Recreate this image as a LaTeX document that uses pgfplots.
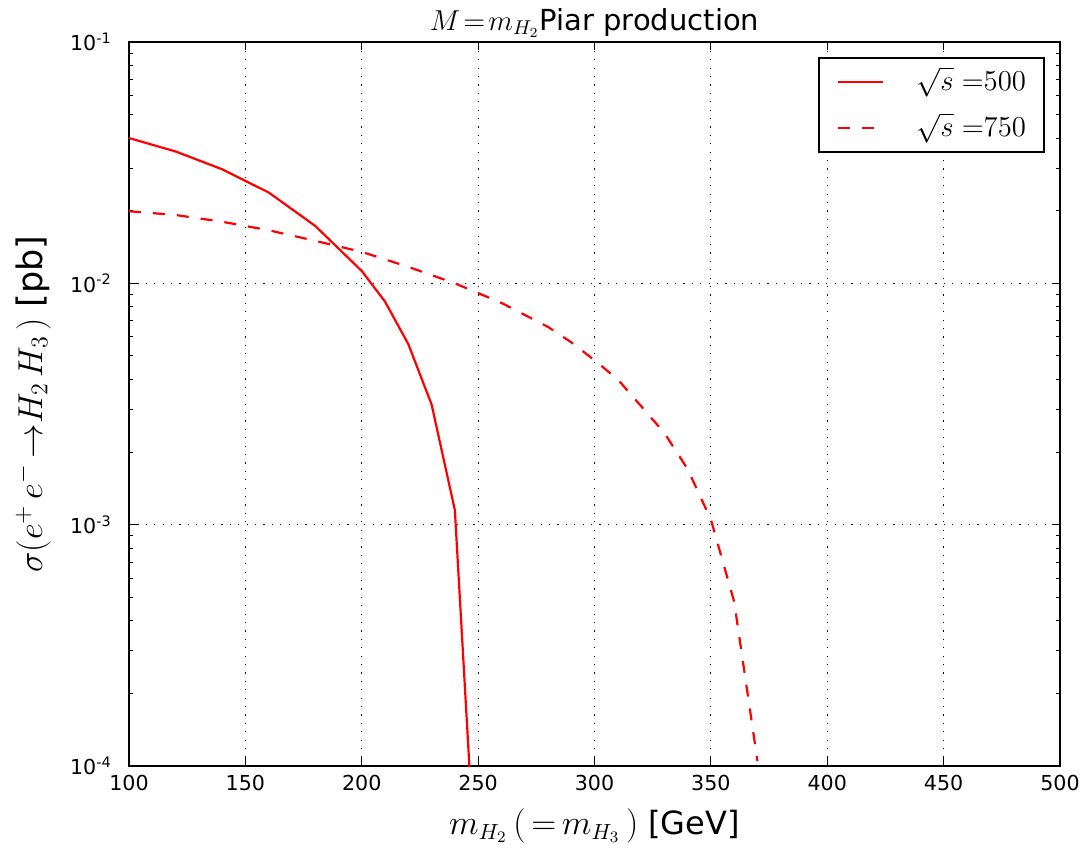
\documentclass[border=0pt]{standalone}
\usepackage{fontspec}
\setmainfont{DejaVu Sans}
\usepackage{pgfplots}
\pgfplotsset{compat=1.18}
\begin{document}
\fontsize{10.3}{12}\selectfont
\begin{tikzpicture}
\begin{axis}[
  scale only axis,
  width=465.5pt, height=362pt,
  xmin=100, xmax=500,
  ymode=log, ymin=1e-4, ymax=1e-1,
  xtick={100,150,...,500},
  ytick={1e-4,1e-3,1e-2,1e-1},
  yticklabels={10\textsuperscript{-4},10\textsuperscript{-3},10\textsuperscript{-2},10\textsuperscript{-1}},
  /pgf/number format/assume math mode=true,
  /pgf/number format/1000 sep={},
  tick align=inside,
  major tick length=4pt, minor tick length=2pt,
  tick style={black, line width=0.5pt},
  axis line style={black, line width=1pt},
  grid=major,
  major grid style={black, line width=0.5pt, dash pattern=on 0.6pt off 3.6pt},
  xticklabel style={font=\fontsize{10.3}{12}\selectfont, yshift=-1pt},
  yticklabel style={font=\fontsize{10.3}{12}\selectfont, xshift=-5pt},
  every axis title shift=0pt,
  title={$M\mkern2mu{=}\mkern2mu m_{H_2}$Piar production},
  title style={font=\fontsize{14.5}{16}\selectfont, at={(axis description cs:0.5,1)}, anchor=base, yshift=6pt},
  xlabel={$m_{H_2}\,(\,{=}\,m_{H_3}\,)$ [GeV]},
  xlabel style={font=\fontsize{16}{18}\selectfont, at={(axis description cs:0.5,0)}, anchor=base, yshift=-34pt},
  ylabel={$\sigma(e^{+}\,e^{-}\,{\rightarrow}H_2\,H_3\,)$ [pb]},
  ylabel style={font=\fontsize{17.5}{19}\selectfont, at={(axis description cs:-0.103,0.5)}, anchor=center},
  legend style={at={(axis description cs:1,1)}, anchor=north east, xshift=-7.5pt, yshift=-7.5pt,
    draw=black, line width=1pt, font=\fontsize{14}{16}\selectfont,
    inner xsep=9pt, inner ysep=5pt, row sep=9pt,
    nodes={inner sep=0pt, text height=11pt, text depth=3pt, anchor=west},
    /tikz/every odd column/.append style={column sep=16pt}},
  legend cell align=left,
  legend image code/.code={\draw[#1] (0pt,0pt) -- (22.5pt,0pt);},
]
\addplot[red, line width=1.1pt] coordinates {
(100,0.0400) (120,0.0352) (140,0.0297) (160,0.0238) (180,0.0173)
(200,0.01125) (210,0.0084) (220,0.0056) (230,0.00315) (240,0.00115) (250,0.000023)
};
\addlegendentry{$\sqrt{s}\;{=}500$}
\addplot[red, line width=1.1pt, dash pattern=on 6pt off 6pt] coordinates {
(100,0.0199) (120,0.0192) (140,0.0180) (160,0.0166) (180,0.0150)
(200,0.0135) (220,0.0117) (240,0.0100) (260,0.0083) (280,0.0066)
(290,0.0057) (300,0.0048) (310,0.0040) (320,0.0031) (330,0.0024) (340,0.00170)
(350,0.00105) (360,0.00048) (370,0.000105)
};
\addlegendentry{$\sqrt{s}\;{=}750$}
\end{axis}
\path ([shift={(-64.5pt,-42.5pt)}]current axis.south west) rectangle ([shift={(14.5pt,21pt)}]current axis.north east);
\end{tikzpicture}
\end{document}
